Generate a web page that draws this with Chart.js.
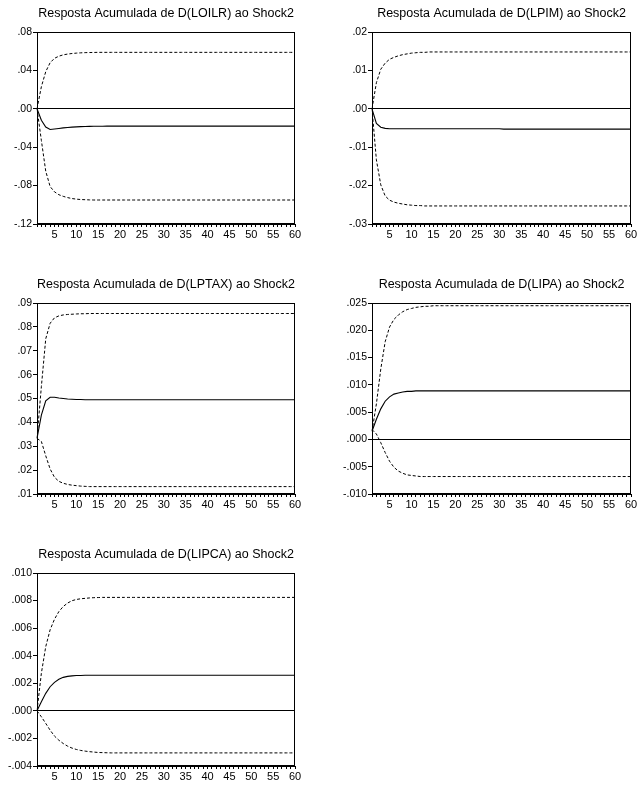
<!DOCTYPE html>
<html>
<head>
<meta charset="utf-8">
<title>Resposta Acumulada ao Shock2</title>
<script src="https://cdn.jsdelivr.net/npm/chart.js@4.4.1/dist/chart.umd.min.js"></script>
<style>
  body { margin: 0; background: #fff; }
  #main { position: relative; width: 638px; height: 785px; }
  #main canvas { position: absolute; }
</style>
</head>
<body>
<div id="main">
  <canvas id="c1" width="303" height="240" style="left:0px;top:0px"></canvas>
  <canvas id="c2" width="304" height="240" style="left:335px;top:0px"></canvas>
  <canvas id="c3" width="303" height="239" style="left:0px;top:271px"></canvas>
  <canvas id="c4" width="304" height="239" style="left:335px;top:271px"></canvas>
  <canvas id="c5" width="303" height="241" style="left:0px;top:541px"></canvas>
</div>
<script>
// periods of the response (horizon 1..60)
var periods = [
  1, 2, 3, 4, 5, 6, 7, 8, 9, 10,
  11, 12, 13, 14, 15, 16, 17, 18, 19, 20,
  21, 22, 23, 24, 25, 26, 27, 28, 29, 30,
  31, 32, 33, 34, 35, 36, 37, 38, 39, 40,
  41, 42, 43, 44, 45, 46, 47, 48, 49, 50,
  51, 52, 53, 54, 55, 56, 57, 58, 59, 60
];

// D(LOILR)
var loilrResp = [
  0, -0.012, -0.019, -0.0215, -0.021, -0.0205, -0.0199, -0.0194, -0.0191, -0.0188,
  -0.0186, -0.0184, -0.0183, -0.0182, -0.0181, -0.0181, -0.018, -0.018, -0.018, -0.018,
  -0.018, -0.018, -0.018, -0.018, -0.018, -0.018, -0.018, -0.018, -0.018, -0.018,
  -0.018, -0.018, -0.018, -0.018, -0.018, -0.018, -0.018, -0.018, -0.018, -0.018,
  -0.018, -0.018, -0.018, -0.018, -0.018, -0.018, -0.018, -0.018, -0.018, -0.018,
  -0.018, -0.018, -0.018, -0.018, -0.018, -0.018, -0.018, -0.018, -0.018, -0.018
];
var loilrUpper = [
  0, 0.023, 0.0387, 0.048, 0.0526, 0.0548, 0.0562, 0.057, 0.0576, 0.058,
  0.0583, 0.0585, 0.0586, 0.0587, 0.0588, 0.0588, 0.0588, 0.0588, 0.0588, 0.0588,
  0.0588, 0.0588, 0.0588, 0.0588, 0.0588, 0.0588, 0.0588, 0.0588, 0.0588, 0.0588,
  0.0588, 0.0588, 0.0588, 0.0588, 0.0588, 0.0588, 0.0588, 0.0588, 0.0588, 0.0588,
  0.0588, 0.0588, 0.0588, 0.0588, 0.0588, 0.0588, 0.0588, 0.0588, 0.0588, 0.0588,
  0.0588, 0.0588, 0.0588, 0.0588, 0.0588, 0.0588, 0.0588, 0.0588, 0.0588, 0.0588
];
var loilrLower = [
  0, -0.033, -0.065, -0.081, -0.0865, -0.0895, -0.0912, -0.0925, -0.0935, -0.0941,
  -0.0945, -0.0947, -0.0949, -0.095, -0.095, -0.095, -0.095, -0.095, -0.095, -0.095,
  -0.095, -0.095, -0.095, -0.095, -0.095, -0.095, -0.095, -0.095, -0.095, -0.095,
  -0.095, -0.095, -0.095, -0.095, -0.095, -0.095, -0.095, -0.095, -0.095, -0.095,
  -0.095, -0.095, -0.095, -0.095, -0.095, -0.095, -0.095, -0.095, -0.095, -0.095,
  -0.095, -0.095, -0.095, -0.095, -0.095, -0.095, -0.095, -0.095, -0.095, -0.095
];

// D(LPIM)
var lpimResp = [
  0, -0.0038, -0.0048, -0.0051, -0.0052, -0.0052, -0.0052, -0.0052, -0.0052, -0.0052,
  -0.0052, -0.0052, -0.0052, -0.0052, -0.0052, -0.0052, -0.0052, -0.0052, -0.0052, -0.0052,
  -0.0052, -0.0052, -0.0052, -0.0052, -0.0052, -0.0052, -0.0052, -0.0052, -0.0052, -0.0052,
  -0.0053, -0.0053, -0.0053, -0.0053, -0.0053, -0.0053, -0.0053, -0.0053, -0.0053, -0.0053,
  -0.0053, -0.0053, -0.0053, -0.0053, -0.0053, -0.0053, -0.0053, -0.0053, -0.0053, -0.0053,
  -0.0053, -0.0053, -0.0053, -0.0053, -0.0053, -0.0053, -0.0053, -0.0053, -0.0053, -0.0053
];
var lpimUpper = [
  0, 0.0068, 0.0103, 0.0119, 0.0129, 0.0134, 0.0138, 0.0141, 0.0143, 0.0145,
  0.0146, 0.0147, 0.0147, 0.0148, 0.0148, 0.0148, 0.0148, 0.0148, 0.0148, 0.0148,
  0.0148, 0.0148, 0.0148, 0.0148, 0.0148, 0.0148, 0.0148, 0.0148, 0.0148, 0.0148,
  0.0148, 0.0148, 0.0148, 0.0148, 0.0148, 0.0148, 0.0148, 0.0148, 0.0148, 0.0148,
  0.0148, 0.0148, 0.0148, 0.0148, 0.0148, 0.0148, 0.0148, 0.0148, 0.0148, 0.0148,
  0.0148, 0.0148, 0.0148, 0.0148, 0.0148, 0.0148, 0.0148, 0.0148, 0.0148, 0.0148
];
var lpimLower = [
  0, -0.0133, -0.0198, -0.0227, -0.0238, -0.0243, -0.0246, -0.0248, -0.025, -0.0251,
  -0.0252, -0.0252, -0.0253, -0.0253, -0.0253, -0.0253, -0.0253, -0.0253, -0.0253, -0.0253,
  -0.0253, -0.0253, -0.0253, -0.0253, -0.0253, -0.0253, -0.0253, -0.0253, -0.0253, -0.0253,
  -0.0253, -0.0253, -0.0253, -0.0253, -0.0253, -0.0253, -0.0253, -0.0253, -0.0253, -0.0253,
  -0.0253, -0.0253, -0.0253, -0.0253, -0.0253, -0.0253, -0.0253, -0.0253, -0.0253, -0.0253,
  -0.0253, -0.0253, -0.0253, -0.0253, -0.0253, -0.0253, -0.0253, -0.0253, -0.0253, -0.0253
];

// D(LPTAX)
var lptaxResp = [
  0.0333, 0.043, 0.049, 0.0505, 0.0505, 0.0502, 0.05, 0.0498, 0.0497, 0.0496,
  0.0496, 0.0495, 0.0495, 0.0495, 0.0495, 0.0495, 0.0495, 0.0495, 0.0495, 0.0495,
  0.0495, 0.0495, 0.0495, 0.0495, 0.0495, 0.0495, 0.0495, 0.0495, 0.0495, 0.0495,
  0.0495, 0.0495, 0.0495, 0.0495, 0.0495, 0.0495, 0.0495, 0.0495, 0.0495, 0.0495,
  0.0495, 0.0495, 0.0495, 0.0495, 0.0495, 0.0495, 0.0495, 0.0495, 0.0495, 0.0495,
  0.0495, 0.0495, 0.0495, 0.0495, 0.0495, 0.0495, 0.0495, 0.0495, 0.0495, 0.0495
];
var lptaxUpper = [
  0.0333, 0.055, 0.075, 0.0815, 0.0838, 0.0846, 0.085, 0.0852, 0.0853, 0.0854,
  0.0855, 0.0855, 0.0856, 0.0856, 0.0856, 0.0856, 0.0856, 0.0856, 0.0856, 0.0856,
  0.0856, 0.0856, 0.0856, 0.0856, 0.0856, 0.0856, 0.0856, 0.0856, 0.0856, 0.0856,
  0.0856, 0.0856, 0.0856, 0.0856, 0.0856, 0.0856, 0.0856, 0.0856, 0.0856, 0.0856,
  0.0856, 0.0856, 0.0856, 0.0856, 0.0856, 0.0856, 0.0856, 0.0856, 0.0856, 0.0856,
  0.0856, 0.0856, 0.0856, 0.0856, 0.0856, 0.0856, 0.0856, 0.0856, 0.0856, 0.0856
];
var lptaxLower = [
  0.0333, 0.032, 0.026, 0.0205, 0.017, 0.0153, 0.0145, 0.014, 0.0137, 0.0135,
  0.0133, 0.0132, 0.0131, 0.0131, 0.0131, 0.0131, 0.0131, 0.0131, 0.0131, 0.0131,
  0.0131, 0.0131, 0.0131, 0.0131, 0.0131, 0.0131, 0.0131, 0.0131, 0.0131, 0.0131,
  0.0131, 0.0131, 0.0131, 0.0131, 0.0131, 0.0131, 0.0131, 0.0131, 0.0131, 0.0131,
  0.0131, 0.0131, 0.0131, 0.0131, 0.0131, 0.0131, 0.0131, 0.0131, 0.0131, 0.0131,
  0.0131, 0.0131, 0.0131, 0.0131, 0.0131, 0.0131, 0.0131, 0.0131, 0.0131, 0.0131
];

// D(LIPA)
var lipaResp = [
  0.0015, 0.0037, 0.0056, 0.007, 0.0078, 0.0083, 0.0085, 0.0087, 0.0088, 0.0088,
  0.0089, 0.0089, 0.0089, 0.0089, 0.0089, 0.0089, 0.0089, 0.0089, 0.0089, 0.0089,
  0.0089, 0.0089, 0.0089, 0.0089, 0.0089, 0.0089, 0.0089, 0.0089, 0.0089, 0.0089,
  0.0089, 0.0089, 0.0089, 0.0089, 0.0089, 0.0089, 0.0089, 0.0089, 0.0089, 0.0089,
  0.0089, 0.0089, 0.0089, 0.0089, 0.0089, 0.0089, 0.0089, 0.0089, 0.0089, 0.0089,
  0.0089, 0.0089, 0.0089, 0.0089, 0.0089, 0.0089, 0.0089, 0.0089, 0.0089, 0.0089
];
var lipaUpper = [
  0.0015, 0.0065, 0.0129, 0.0179, 0.0206, 0.022, 0.0228, 0.0234, 0.0238, 0.024,
  0.0242, 0.0243, 0.0244, 0.0244, 0.0245, 0.0245, 0.0245, 0.0245, 0.0245, 0.0245,
  0.0245, 0.0245, 0.0245, 0.0245, 0.0245, 0.0245, 0.0245, 0.0245, 0.0245, 0.0245,
  0.0245, 0.0245, 0.0245, 0.0245, 0.0245, 0.0245, 0.0245, 0.0245, 0.0245, 0.0245,
  0.0245, 0.0245, 0.0245, 0.0245, 0.0245, 0.0245, 0.0245, 0.0245, 0.0245, 0.0245,
  0.0245, 0.0245, 0.0245, 0.0245, 0.0245, 0.0245, 0.0245, 0.0245, 0.0245, 0.0245
];
var lipaLower = [
  0.0018, 0.001, -0.0006, -0.0024, -0.004, -0.0051, -0.0058, -0.0062, -0.0065, -0.0066,
  -0.0067, -0.0068, -0.0068, -0.0068, -0.0068, -0.0068, -0.0068, -0.0068, -0.0068, -0.0068,
  -0.0068, -0.0068, -0.0068, -0.0068, -0.0068, -0.0068, -0.0068, -0.0068, -0.0068, -0.0068,
  -0.0068, -0.0068, -0.0068, -0.0068, -0.0068, -0.0068, -0.0068, -0.0068, -0.0068, -0.0068,
  -0.0068, -0.0068, -0.0068, -0.0068, -0.0068, -0.0068, -0.0068, -0.0068, -0.0068, -0.0068,
  -0.0068, -0.0068, -0.0068, -0.0068, -0.0068, -0.0068, -0.0068, -0.0068, -0.0068, -0.0068
];

// D(LIPCA)
var lipcaResp = [
  0, 0.00066, 0.00127, 0.00175, 0.00207, 0.00229, 0.00243, 0.0025, 0.00254, 0.00256,
  0.00257, 0.00258, 0.00258, 0.00258, 0.00258, 0.00258, 0.00258, 0.00258, 0.00258, 0.00258,
  0.00258, 0.00258, 0.00258, 0.00258, 0.00258, 0.00258, 0.00258, 0.00258, 0.00258, 0.00258,
  0.00258, 0.00258, 0.00258, 0.00258, 0.00258, 0.00258, 0.00258, 0.00258, 0.00258, 0.00258,
  0.00258, 0.00258, 0.00258, 0.00258, 0.00258, 0.00258, 0.00258, 0.00258, 0.00258, 0.00258,
  0.00258, 0.00258, 0.00258, 0.00258, 0.00258, 0.00258, 0.00258, 0.00258, 0.00258, 0.00258
];
var lipcaUpper = [
  0, 0.00273, 0.00466, 0.00588, 0.00665, 0.0072, 0.00757, 0.00782, 0.00799, 0.00808,
  0.00813, 0.00816, 0.00819, 0.00821, 0.00822, 0.00823, 0.00823, 0.00823, 0.00823, 0.00823,
  0.00823, 0.00823, 0.00823, 0.00823, 0.00823, 0.00823, 0.00823, 0.00823, 0.00823, 0.00823,
  0.00823, 0.00823, 0.00823, 0.00823, 0.00823, 0.00823, 0.00823, 0.00823, 0.00823, 0.00823,
  0.00823, 0.00823, 0.00823, 0.00823, 0.00823, 0.00823, 0.00823, 0.00823, 0.00823, 0.00823,
  0.00823, 0.00823, 0.00823, 0.00823, 0.00823, 0.00823, 0.00823, 0.00823, 0.00823, 0.00823
];
var lipcaLower = [
  0, -0.00043, -0.00091, -0.0014, -0.00183, -0.00213, -0.00237, -0.00256, -0.0027, -0.0028,
  -0.00287, -0.00292, -0.00296, -0.00299, -0.00302, -0.00303, -0.00304, -0.00305, -0.00305, -0.00305,
  -0.00305, -0.00305, -0.00305, -0.00305, -0.00305, -0.00305, -0.00305, -0.00305, -0.00305, -0.00305,
  -0.00305, -0.00305, -0.00305, -0.00305, -0.00305, -0.00305, -0.00305, -0.00305, -0.00305, -0.00305,
  -0.00305, -0.00305, -0.00305, -0.00305, -0.00305, -0.00305, -0.00305, -0.00305, -0.00305, -0.00305,
  -0.00305, -0.00305, -0.00305, -0.00305, -0.00305, -0.00305, -0.00305, -0.00305, -0.00305, -0.00305
];

var FONT = '"Liberation Sans", Arial, sans-serif';

// box around the plot area (EViews style frame)
var framePlugin = {
  id: 'frame',
  afterDatasetsDraw: function(chart) {
    var a = chart.chartArea;
    var ctx = chart.ctx;
    ctx.save();
    ctx.strokeStyle = '#000';
    ctx.lineWidth = 1;
    ctx.strokeRect(Math.round(a.left) + 0.5, Math.round(a.top) + 0.5,
                   Math.round(a.right) - Math.round(a.left) - 1, Math.round(a.bottom) - Math.round(a.top) - 1);
    ctx.restore();
  }
};

function fmt(v, dec) {
  if (Math.abs(v) < 1e-12) v = 0;
  return v.toFixed(dec).replace('0.', '.');
}

function makePanel(id, title, resp, upper, lower, yMin, yMax, yStep, dec) {
  var band = { borderColor: '#000', borderWidth: 1, borderDash: [3, 2], pointRadius: 0, tension: 0, fill: false };
  return new Chart(document.getElementById(id), {
    type: 'line',
    data: {
      labels: periods,
      datasets: [
        Object.assign({ label: 'upper', data: upper }, band),
        { label: 'resp', data: resp, borderColor: '#000', borderWidth: 1.1, pointRadius: 0, tension: 0, fill: false },
        Object.assign({ label: 'lower', data: lower }, band)
      ]
    },
    options: {
      responsive: false,
      animation: false,
      events: [],
      layout: { padding: { left: 0, right: 8, top: 0, bottom: 0 } },
      plugins: {
        legend: { display: false },
        tooltip: { enabled: false },
        title: {
          display: true,
          text: title,
          fullSize: false,
          color: '#000',
          font: { family: FONT, size: 12.5, weight: 'normal', lineHeight: 1.2 },
          padding: { top: 6, bottom: 11 }
        }
      },
      scales: {
        x: {
          type: 'category',
          offset: false,
          afterFit: function(s) { s.height = 16; },
          border: { display: true, color: '#000', width: 1 },
          grid: { drawOnChartArea: false, tickLength: 3, color: '#000', tickColor: '#000' },
          ticks: {
            autoSkip: false, maxRotation: 0, minRotation: 0, padding: 1, color: '#000',
            font: { family: FONT, size: 11 },
            callback: function(val, idx) {
              var p = periods[idx];
              return p % 5 === 0 ? String(p) : '';
            }
          }
        },
        y: {
          min: yMin, max: yMax,
          afterFit: function(s) { s.width = 37; },
          border: { display: true, color: '#000', width: 1 },
          grid: {
            drawOnChartArea: true, tickLength: 4, tickColor: '#000',
            color: function(c) { return Math.abs(c.tick.value) < 1e-9 ? '#000' : 'rgba(0,0,0,0)'; }
          },
          ticks: {
            stepSize: yStep, padding: 1, color: '#000',
            font: { family: FONT, size: 10.5 },
            callback: function(v) { return fmt(v, dec); }
          }
        }
      }
    },
    plugins: [framePlugin]
  });
}

makePanel('c1', 'Resposta Acumulada de D(LOILR) ao Shock2', loilrResp, loilrUpper, loilrLower, -0.12, 0.08, 0.04, 2);
makePanel('c2', 'Resposta Acumulada de D(LPIM) ao Shock2', lpimResp, lpimUpper, lpimLower, -0.03, 0.02, 0.01, 2);
makePanel('c3', 'Resposta Acumulada de D(LPTAX) ao Shock2', lptaxResp, lptaxUpper, lptaxLower, 0.01, 0.09, 0.01, 2);
makePanel('c4', 'Resposta Acumulada de D(LIPA) ao Shock2', lipaResp, lipaUpper, lipaLower, -0.010, 0.025, 0.005, 3);
makePanel('c5', 'Resposta Acumulada de D(LIPCA) ao Shock2', lipcaResp, lipcaUpper, lipcaLower, -0.004, 0.010, 0.002, 3);
</script>
</body>
</html>
